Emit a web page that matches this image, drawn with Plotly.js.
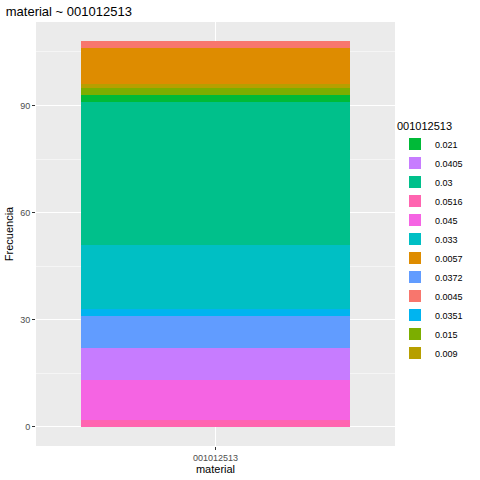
<!DOCTYPE html><html><head><script src="https://cdn.plot.ly/plotly-3.0.1.min.js"></script></head><body style="margin:0">
<div id="c" style="width:480px;height:480px"></div>
<script>
const stackOrder = ["0.0516","0.045","0.0405","0.0372","0.0351","0.033","0.03","0.021","0.015","0.009","0.0057","0.0045"];
const counts =     [2, 11, 9, 9, 2, 18, 40, 2, 2, 1, 10, 2];
const colors =     ["#FF64B0","#F564E3","#C77CFF","#619CFF","#00B4F0","#00BFC4","#00C08B","#00BA38","#7CAE00","#B79F00","#DE8C00","#F8766D"];
const legendOrder = ["0.021","0.0405","0.03","0.0516","0.045","0.033","0.0057","0.0372","0.0045","0.0351","0.015","0.009"];
const category = "001012513";
const traces = stackOrder.map((n,i)=>({type:'bar',x:[category],y:[counts[i]],name:n,marker:{color:colors[i],line:{width:0}},width:0.9,legendrank:legendOrder.indexOf(n)+1,hoverinfo:'name+y'}));
Plotly.newPlot('c',traces,{
 barmode:'stack',width:480,height:480,
 margin:{l:36,r:82,t:22,b:34},
 paper_bgcolor:'#fff',plot_bgcolor:'#EBEBEB',
 font:{family:'Liberation Sans, Arial',size:9,color:'#4D4D4D'},
 title:{text:'material ~ 001012513',x:0.012,xanchor:'left',y:0.985,yanchor:'top',font:{size:13,color:'#000'}},
 xaxis:{type:'category',title:{text:'material',font:{size:11,color:'#000'},standoff:2},range:[-0.6,0.6],gridcolor:'#fff',ticks:'outside',ticklen:3,tickcolor:'#333',zeroline:false},
 yaxis:{title:{text:'Frecuencia',font:{size:11,color:'#000'},standoff:4},range:[-5.4,113.4],tickvals:[0,30,60,90],gridcolor:'#fff',ticks:'outside',ticklen:3,tickcolor:'#333',zeroline:false,minor:{tickvals:[15,45,75,105],gridcolor:'#F5F5F5',showgrid:true}},
 legend:{x:1.0,xanchor:'left',y:0.78,yanchor:'top',traceorder:'normal',title:{text:'001012513',font:{size:11,color:'#000'}},font:{size:9,color:'#000'},itemwidth:30,tracegroupgap:0},
 showlegend:true
},{displayModeBar:false});
</script></body></html>
